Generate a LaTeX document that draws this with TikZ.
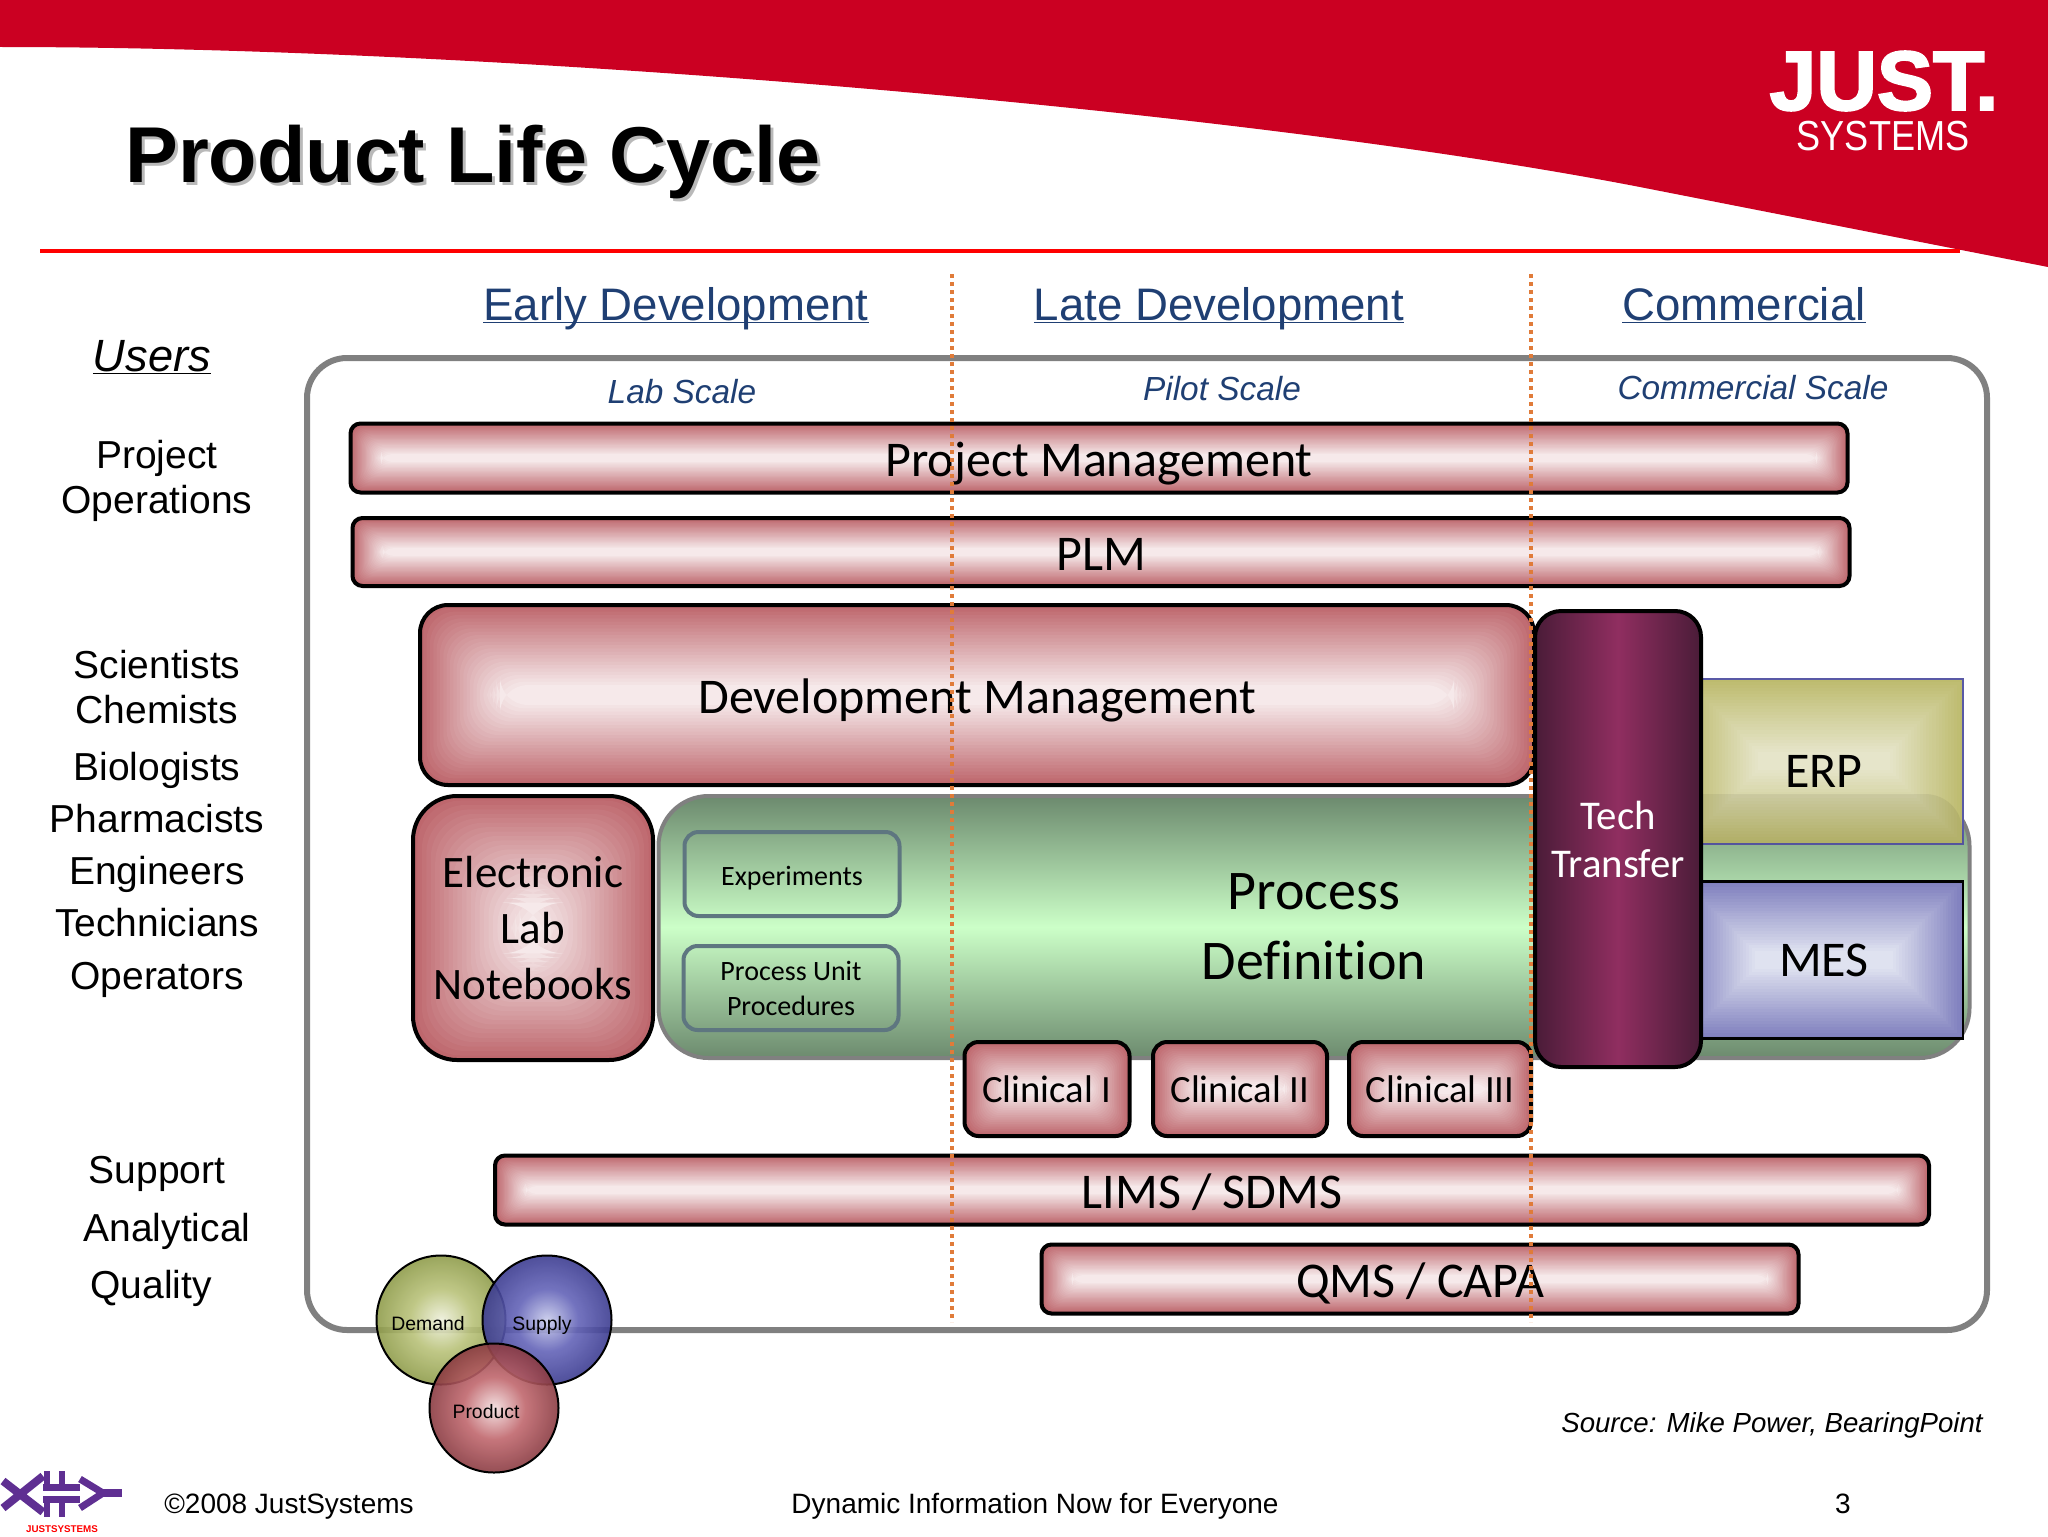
\documentclass[tikz,border=0pt]{standalone}
\usepackage{fontspec}
\usepackage{xcolor}
\usepackage{tikz}
\setmainfont{Liberation Sans}
\newfontfamily\carlito[Ligatures=NoCommon]{Carlito}
\newfontfamily\logofont[BoldFeatures={FakeBold=2.5}]{Liberation Sans}
\definecolor{bannerred}{HTML}{CB0022}
\definecolor{navy}{HTML}{1F3F73}
\definecolor{dotorange}{HTML}{E07B39}
\definecolor{pinkedge}{HTML}{BE676D}
\definecolor{pinkmid}{HTML}{F8EEEF}
\definecolor{oliveedge}{HTML}{BDBB6E}
\definecolor{olivemid}{HTML}{E8E7CE}
\definecolor{blueedge}{HTML}{7F7FBE}
\definecolor{bluemid}{HTML}{E3E6F2}
\definecolor{greenedge}{HTML}{6C8A6E}
\definecolor{greenmid}{HTML}{CCFFC8}
\definecolor{techedge}{HTML}{4A1C38}
\definecolor{techmid}{HTML}{902E60}
\definecolor{innerline}{HTML}{5E7680}
\definecolor{logopurple}{HTML}{5F2F92}
\definecolor{orboa}{HTML}{EEF0DC}
\definecolor{orbob}{HTML}{B9C27A}
\definecolor{orboc}{HTML}{8F9C4B}
\definecolor{orbba}{HTML}{C8CBEB}
\definecolor{orbbb}{HTML}{6464B8}
\definecolor{orbbc}{HTML}{3C3C90}
\definecolor{orbra}{HTML}{F3DEDF}
\definecolor{orbrb}{HTML}{C0676D}
\definecolor{orbrc}{HTML}{8A3B42}
\pgfdeclareradialshading{orbolive}{\pgfpoint{0bp}{0bp}}{color(0bp)=(orboa);color(12bp)=(orbob);color(25bp)=(orboc);color(50bp)=(orboc)}
\pgfdeclareradialshading{orbblue}{\pgfpoint{0bp}{0bp}}{color(0bp)=(orbba);color(12bp)=(orbbb);color(25bp)=(orbbc);color(50bp)=(orbbc)}
\pgfdeclareradialshading{orbred}{\pgfpoint{0bp}{0bp}}{color(0bp)=(orbra);color(12bp)=(orbrb);color(25bp)=(orbrc);color(50bp)=(orbrc)}
% nested rectangles for the inset gradient of the boxes
\newcommand{\glowsteps}[2]{%
  \pgfpointanchor{path picture bounding box}{south west}\pgfgetlastxy{\xa}{\ya}%
  \pgfpointanchor{path picture bounding box}{north east}\pgfgetlastxy{\xb}{\yb}%
  \pgfmathsetmacro\half{min(\xb-\xa,\yb-\ya)/2}%
  \foreach \k in {0,...,24}{%
    \pgfmathsetmacro\ins{\half*\k/27}%
    \pgfmathsetmacro\pc{int(4*\k)}%
    \fill[#2!\pc!#1] (\xa+\ins pt,\ya+\ins pt) rectangle (\xb-\ins pt,\yb-\ins pt);
  }}
\tikzset{
  wh/.style 2 args={minimum width=#1*0.5pt,minimum height=#2*0.5pt,inner sep=0pt},
  glow/.style 2 args={path picture={\glowsteps{#1}{#2}}},
  card/.style={draw=black,line width=2pt,glow={pinkedge}{pinkmid},align=center,
    font=\carlito\fontsize{25}{30}\selectfont},
  bar/.style={card,rounded corners=5pt,text height=20pt,text depth=2pt},
  clin/.style={card,rounded corners=7pt,font=\carlito\fontsize{19.3}{23}\selectfont},
  inner/.style={draw=innerline,line width=2pt,rounded corners=7pt,align=center,
    font=\carlito\fontsize{14}{17.5}\selectfont},
  erpbox/.style={font=\carlito\fontsize{25}{30}\selectfont},
  who/.style={anchor=base,font=\fontsize{19.5}{24}\selectfont},
  phase/.style={text=navy,anchor=base,font=\fontsize{22.8}{27}\selectfont},
  scalelabel/.style={text=navy,font=\itshape\fontsize{16.7}{20}\selectfont},
  foot/.style={font=\fontsize{14}{17}\selectfont},
  ball/.style={circle,draw=black,line width=1pt,fill opacity=.9,text opacity=1,
    minimum size=64.5pt,inner sep=0pt,font=\fontsize{9.7}{12}\selectfont},
  dotline/.style={draw=dotorange,line width=2.2pt,dash pattern=on 2.2pt off 1.8pt},
  logoline/.style={draw=logopurple,line width=4pt},
}
\begin{document}
\begin{tikzpicture}[x=0.5pt,y=-0.5pt]
  \useasboundingbox (0,0) rectangle (2048,1536);
  % banner and title
  \fill[bannerred] (0,0) -- (0,47) .. controls (500,47) and (1250,110) .. (1650,189)
    -- (2048,267) -- (2048,0) -- cycle;
  \draw[red,line width=2.4pt] (40,251) coordinate (rulea) -- (1960,251) coordinate (ruleb);
  \node[text=gray!55,font=\bfseries\fontsize{39.6}{46}\selectfont] (titleshade) at (476,165) {Product Life Cycle};
  \node[font=\bfseries\fontsize{39.6}{46}\selectfont] (title) at (473,162) {Product Life Cycle};
  \node[text=white,inner sep=0pt,font=\logofont\bfseries\fontsize{42}{46}\selectfont] (just) at (1884,81) {JUST.};
  \node[text=white,inner sep=0pt,font=\fontsize{21}{25}\selectfont] (systems) at (1883,136) {\scalebox{.86}[1]{SYSTEMS}};

  % headers
  \node[phase] (early) at (676,320) {\underline{\smash{Early Development}}};
  \node[phase] (late) at (1219,320) {\underline{\smash{Late Development}}};
  \node[phase] (comm) at (1744,320) {\underline{\smash{Commercial}}};
  \node[scalelabel] (lab) at (682,392) {Lab Scale};
  \node[scalelabel] (pilot) at (1222,389) {Pilot Scale};
  \node[scalelabel] (cscale) at (1753,388) {Commercial Scale};

  % users column
  \node[phase,text=black,font=\itshape\fontsize{22.6}{27}\selectfont] (users) at (152,371) {\underline{\smash{Users}}};
  \foreach \who/\ypos in {Project/468,Operations/513,Scientists/678,Chemists/723,Biologists/780,
    Pharmacists/832,Engineers/884,Technicians/936,Operators/989,Support/1183}
    \node[who] (who\ypos) at (157,\ypos) {\who};
  \node[who] (analytical) at (167,1241) {Analytical};
  \node[who] (quality) at (151,1298) {Quality};

  % frame
  \node[draw=gray,line width=3pt,rounded corners=20pt,wh={1680}{972}] (frame) at (1147,844) {};

  % boxes
  \node[bar,wh={1497}{69}] (pm) at (1099,458) {Project Management};
  \node[bar,wh={1497}{68}] (plm) at (1101,552) {PLM};
  \node[card,rounded corners=14pt,text height=20pt,text depth=2pt,wh={1114}{180}] (dev) at (977,695) {Development Management};
  \node[card,rounded corners=22pt,wh={240}{264},font=\carlito\fontsize{22.5}{28}\selectfont] (eln) at (533,928)
    {Electronic\\Lab\\Notebooks};
  \node[draw=gray,line width=2pt,rounded corners=25pt,wh={1311}{262},top color=greenedge,bottom color=greenedge,
    middle color=greenmid,align=center,font=\carlito\fontsize{28}{35}\selectfont] (proc) at (1314,927)
    {Process\\Definition};
  \node[inner,wh={215}{84},text height=13pt,text depth=2pt] (exper) at (792,874) {Experiments};
  \node[inner,wh={215}{84}] (pup) at (791,988) {Process Unit\\Procedures};
  \node[draw=blue!30!gray,line width=1pt,glow={oliveedge}{olivemid},wh={278}{165},erpbox] (erp) at (1824,761)
    {\raisebox{-13pt}[0pt][0pt]{ERP}};
  \fill[black,opacity=.06] (erp.west |- proc.north) -- (1925,794) to[out=0,in=90] (1962,830)
    -- (erp.south east) -- (erp.south west) -- cycle;
  \node[draw=black,line width=1.2pt,glow={blueedge}{bluemid},wh={278}{157},erpbox] (mes) at (1824,960) {MES};
  \node[clin,wh={165}{94}] (clin1) at (1047,1089) {Clinical I};
  \node[clin,wh={174}{94}] (clin2) at (1240,1089) {Clinical II};
  \node[clin,wh={182}{94}] (clin3) at (1440,1089) {Clinical III};
  \node[draw=black,line width=2pt,rounded corners=13pt,wh={166}{456},left color=techedge,right color=techedge,
    middle color=techmid,text=white,align=center,font=\carlito\fontsize{20.4}{24}\selectfont] (tech) at (1618,839)
    {Tech\\Transfer};
  \node[bar,wh={1434}{69}] (lims) at (1212,1190) {LIMS / SDMS};
  \node[bar,wh={757}{69}] (qms) at (1420,1279) {QMS / CAPA};

  % phase borders
  \draw[dotline] (952,274) coordinate (d1a) -- (952,1322) coordinate (d1b);
  \draw[dotline] (1531,274) coordinate (d2a) -- (1531,1322) coordinate (d2b);

  % circles
  \node[ball,shading=orbolive] (demand) at (441,1320) {\raisebox{-5pt}[0pt][0pt]{\hspace*{-13pt}Demand}};
  \node[ball,shading=orbblue] (supply) at (547,1320) {\raisebox{-5pt}[0pt][0pt]{\hspace*{-5pt}Supply}};
  \node[ball,shading=orbred] (product) at (494,1408) {\raisebox{-5pt}[0pt][0pt]{\hspace*{-8pt}Product}};

  % footer
  \node[foot] (copy) at (289,1507) {©2008 JustSystems};
  \node[foot] (slogan) at (1035,1506) {Dynamic Information Now for Everyone};
  \node[foot] (page) at (1843,1504) {3};
  \node[foot,font=\itshape\fontsize{13.8}{17}\selectfont] (source) at (1772,1425) {Source: Mike Power, BearingPoint};

  % small logo
  \draw[logoline] (3,1481) -- (43,1512) (3,1508) -- (43,1476);
  \draw[logoline,line width=3.5pt] (43,1487) -- (80,1487) (43,1499) -- (80,1499);
  \draw[logoline,line width=3pt] (47,1471) -- (47,1487) (62,1471) -- (62,1487)
    (47,1499) -- (47,1517) (62,1499) -- (62,1517);
  \draw[logoline,line width=3.5pt] (80,1479) -- (103,1493) -- (80,1508);
  \draw[logoline] (103,1493) -- (122,1493);
  \node[text=red,font=\bfseries\fontsize{4.9}{6}\selectfont] (logotext) at (62,1529) {JUSTSYSTEMS};
\end{tikzpicture}
\end{document}
